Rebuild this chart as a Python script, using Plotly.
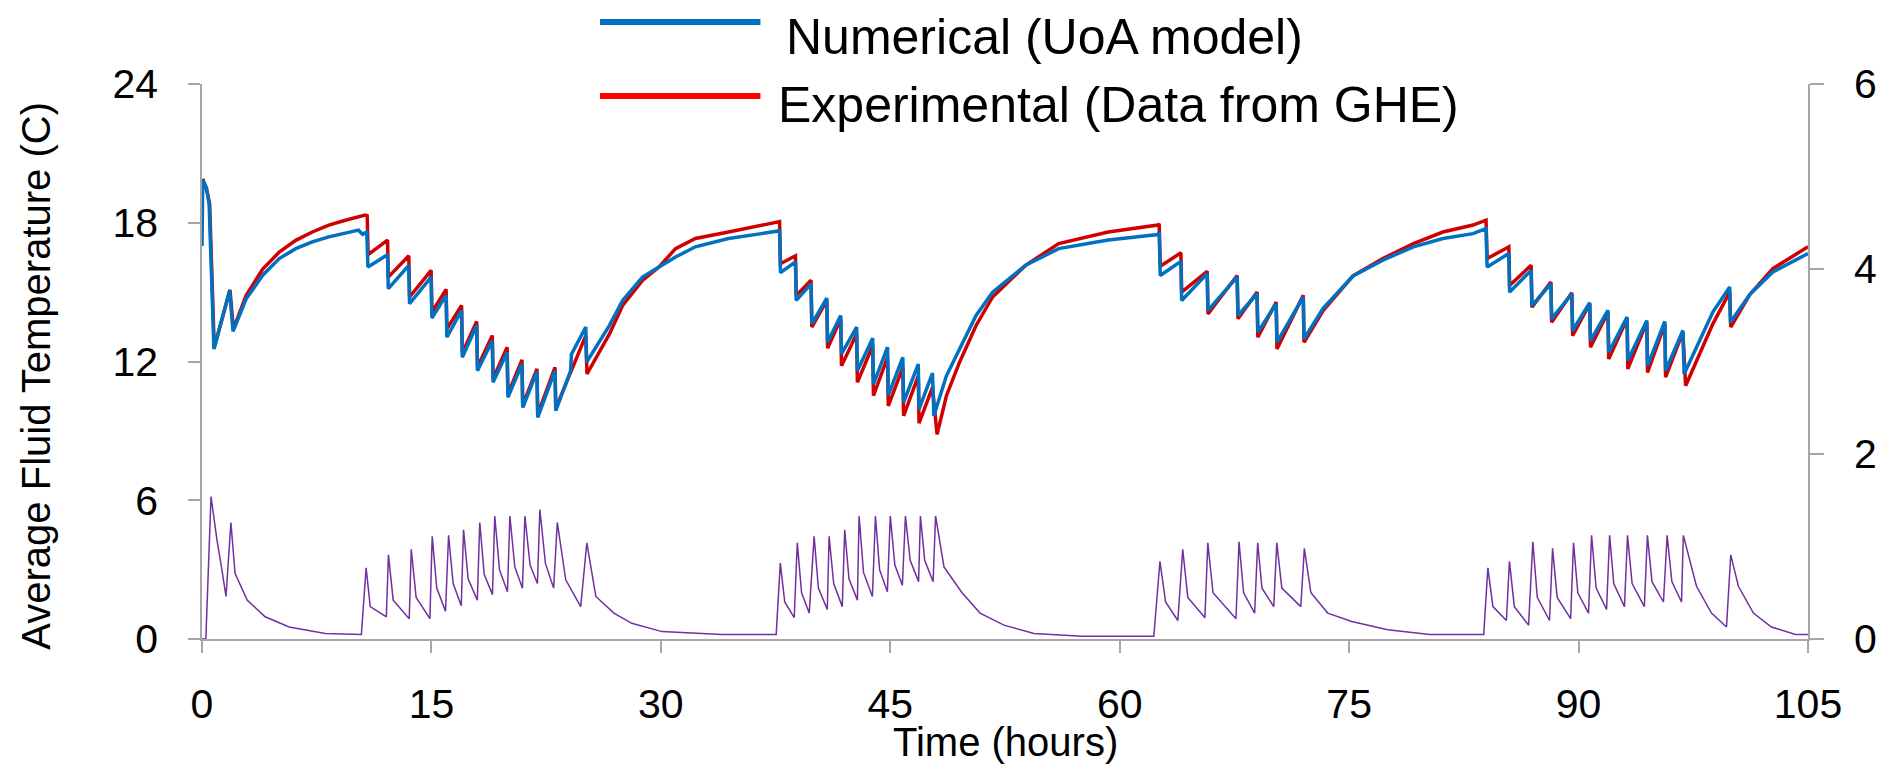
import plotly.graph_objects as go

# ---------------- data ----------------
# Numerical (UoA model) – average fluid temperature (C)
num_t = [0.0, 0.05, 0.3, 0.47, 0.78, 1.81, 2.03, 2.89, 3.97, 5.05, 6.13, 7.21, 8.29, 9.37, 10.23, 10.5, 10.77,
         10.85, 12.13, 12.18, 13.52, 13.57, 14.98, 15.03, 15.96, 16.01, 16.97, 17.02, 17.96, 18.01, 18.98, 19.03,
         19.95, 20.0, 20.92, 20.97, 21.9, 21.95, 23.08, 23.13, 24.1, 24.15, 25.09, 25.15, 26.64, 27.5, 28.8, 29.88,
         30.96, 32.26, 34.42, 36.58, 37.65, 37.76, 37.82, 38.8, 38.85, 39.82, 39.87, 40.85, 40.9, 41.76, 41.81,
         42.8, 42.85, 43.85, 43.9, 44.82, 44.87, 45.82, 45.87, 46.83, 46.88, 47.76, 47.85, 48.67, 49.53, 50.61,
         51.69, 53.85, 56.01, 59.25, 62.49, 62.58, 62.65, 64.0, 64.05, 65.72, 65.77, 67.68, 67.73, 68.98, 69.03,
         70.23, 70.28, 72.0, 72.05, 73.3, 75.25, 77.2, 79.2, 81.13, 83.1, 83.95, 84.02, 85.44, 85.49, 86.9, 86.95,
         88.19, 88.24, 89.56, 89.61, 90.73, 90.78, 91.92, 91.97, 93.17, 93.22, 94.46, 94.51, 95.64, 95.69, 96.82,
         96.9, 98.78, 99.88, 99.93, 101.2, 102.7, 105.0]
num_T = [17.0, 19.85, 19.5, 18.76, 12.54, 15.07, 13.3, 14.71, 15.73, 16.45, 16.88, 17.17, 17.39, 17.53, 17.68, 17.5, 17.6,
         16.09, 16.62, 15.15, 16.16, 14.5, 15.65, 13.88, 14.86, 13.05, 14.21, 12.18, 13.56, 11.6, 12.9, 11.1,
         12.4, 10.45, 11.89, 10.01, 11.56, 9.58, 11.6, 9.87, 11.6, 12.3, 13.49, 11.97, 13.56, 14.64, 15.65, 16.09,
         16.52, 16.96, 17.32, 17.53, 17.64, 17.7, 15.84, 16.31, 14.64, 15.36, 13.63, 14.74, 12.83, 13.99, 12.33,
         13.49, 11.6, 13.01, 11.02, 12.62, 10.55, 12.18, 10.23, 11.89, 9.94, 11.5, 9.65, 11.38, 12.54, 13.99,
         15.0, 16.16, 16.88, 17.25, 17.49, 17.6, 15.72, 16.33, 14.64, 15.8, 14.21, 15.66, 13.99, 14.93, 13.27,
         14.5, 12.83, 14.79, 12.98, 14.3, 15.7, 16.38, 16.96, 17.32, 17.53, 17.75, 16.09, 16.67, 15.0, 15.94, 14.42,
         15.36, 13.85, 14.93, 13.34, 14.54, 12.9, 14.21, 12.4, 13.92, 12.04, 13.77, 11.82, 13.73, 11.6, 13.34,
         11.46, 14.14, 15.22, 13.7, 14.9, 15.87, 16.67]

# Experimental (Data from GHE) – average fluid temperature (C)
exp_t = [0.05, 0.35, 0.5, 0.8, 1.83, 2.05, 2.89, 3.97, 5.05, 6.13, 7.21, 8.29, 9.37, 10.67, 10.8, 10.86, 12.13,
         12.18, 13.52, 13.57, 14.98, 15.03, 15.96, 16.01, 16.97, 17.02, 17.96, 18.01, 18.98, 19.03, 19.95, 20.0,
         20.92, 20.97, 21.9, 21.95, 23.08, 23.13, 25.09, 25.17, 26.64, 27.5, 28.8, 29.88, 30.96, 32.26, 34.42,
         36.58, 37.65, 37.76, 37.82, 38.8, 38.85, 39.82, 39.87, 40.85, 40.9, 41.76, 41.81, 42.8, 42.85, 43.85,
         43.9, 44.82, 44.87, 45.82, 45.87, 46.83, 46.88, 47.76, 48.06, 48.67, 49.53, 50.61, 51.69, 53.85, 56.01,
         59.25, 62.49, 62.58, 62.65, 64.0, 64.05, 65.72, 65.77, 67.68, 67.73, 68.98, 69.03, 70.23, 70.28, 72.0,
         72.05, 73.3, 75.25, 77.2, 79.2, 81.13, 83.1, 83.95, 84.02, 85.44, 85.49, 86.9, 86.95, 88.19, 88.24, 89.56,
         89.61, 90.73, 90.78, 91.92, 91.97, 93.17, 93.22, 94.46, 94.51, 95.64, 95.69, 96.82, 97.0, 98.78, 99.88,
         99.95, 101.2, 102.7, 105.0]
exp_T = [19.9, 19.3, 18.8, 12.6, 15.1, 13.4, 14.86, 16.0, 16.73, 17.24, 17.6, 17.9, 18.11, 18.33, 18.3, 16.62, 17.25,
         15.65, 16.57, 14.79, 15.94, 14.13, 15.12, 13.41, 14.42, 12.37, 13.73, 11.75, 13.12, 11.24, 12.62, 10.59,
         12.07, 10.11, 11.68, 9.72, 11.75, 9.97, 13.12, 11.46, 13.19, 14.42, 15.51, 16.09, 16.88, 17.32, 17.6,
         17.87, 18.0, 18.05, 16.23, 16.57, 14.86, 15.51, 13.49, 14.64, 12.57, 13.85, 11.82, 13.19, 11.1, 12.69,
         10.52, 12.18, 10.08, 11.75, 9.65, 11.38, 9.33, 10.88, 8.85, 10.52, 11.97, 13.56, 14.79, 16.16, 17.1,
         17.6, 17.9, 17.95, 16.12, 16.7, 15.0, 15.9, 14.06, 15.72, 13.85, 15.0, 13.05, 14.57, 12.54, 14.86,
         12.83, 14.2, 15.7, 16.45, 17.1, 17.6, 17.9, 18.11, 16.45, 16.96, 15.29, 16.16, 14.35, 15.44, 13.7, 14.97,
         13.12, 14.5, 12.62, 14.13, 12.11, 13.85, 11.68, 13.7, 11.53, 13.63, 11.32, 13.27, 10.95, 13.63, 15.0,
         13.49, 14.9, 16.02, 16.96]

# Heat rate (right axis)
heat_t = [0.0, 0.25, 0.59, 0.98, 1.3, 1.57, 1.89, 2.16, 2.95, 4.13, 5.7, 8.06, 10.42, 10.73, 11.0, 12.05, 12.19,
          12.5, 13.55, 13.68, 14.0, 14.9, 15.05, 15.35, 15.92, 16.12, 16.42, 16.95, 17.1, 17.4, 18.0, 18.16,
          18.45, 18.99, 19.14, 19.45, 19.97, 20.13, 20.45, 20.95, 21.11, 21.45, 21.93, 22.09, 22.45, 22.99,
          23.23, 23.78, 24.76, 25.16, 25.75, 26.93, 28.1, 30.07, 34.0, 37.54, 37.81, 38.1, 38.72, 38.92, 39.2,
          39.7, 40.02, 40.3, 40.88, 41.0, 41.3, 41.86, 42.02, 42.3, 42.85, 42.96, 43.25, 43.83, 44.03, 44.3,
          44.81, 45.0, 45.3, 45.79, 45.99, 46.3, 46.85, 46.97, 47.25, 47.8, 47.96, 48.51, 49.69, 50.87, 52.43,
          54.39, 57.53, 62.23, 62.63, 63.0, 63.8, 64.12, 64.45, 65.57, 65.76, 66.1, 67.6, 67.8, 68.1, 68.82,
          69.02, 69.3, 70.07, 70.27, 70.6, 71.84, 72.07, 72.5, 73.6, 75.17, 77.52, 80.27, 83.8, 84.07, 84.4,
          85.28, 85.48, 85.8, 86.73, 87.01, 87.3, 88.1, 88.3, 88.6, 89.48, 89.67, 89.95, 90.65, 90.85, 91.15,
          91.83, 92.03, 92.3, 93.0, 93.2, 93.5, 94.3, 94.5, 94.8, 95.55, 95.79, 96.1, 96.73, 96.85, 97.71,
          98.69, 99.67, 99.95, 100.45, 101.43, 102.61, 104.18, 105.0]
heat_Q = [0.0, 0.0, 1.54, 1.07, 0.75, 0.46, 1.26, 0.71, 0.42, 0.24, 0.13, 0.06, 0.05, 0.77, 0.35, 0.24, 0.91,
          0.42, 0.22, 0.97, 0.45, 0.22, 1.11, 0.55, 0.3, 1.12, 0.6, 0.36, 1.18, 0.65, 0.42, 1.26,
          0.7, 0.48, 1.33, 0.75, 0.51, 1.33, 0.78, 0.55, 1.33, 0.8, 0.6, 1.4, 0.82, 0.55,
          1.26, 0.64, 0.35, 1.04, 0.46, 0.28, 0.17, 0.08, 0.05, 0.05, 0.82, 0.4, 0.23, 1.04, 0.5,
          0.28, 1.11, 0.55, 0.32, 1.11, 0.6, 0.35, 1.18, 0.65, 0.42, 1.33, 0.72, 0.46, 1.33, 0.75,
          0.51, 1.33, 0.8, 0.58, 1.33, 0.85, 0.62, 1.33, 0.85, 0.62, 1.33, 0.78, 0.5, 0.28, 0.15,
          0.06, 0.03, 0.03, 0.84, 0.4, 0.2, 0.97, 0.45, 0.23, 1.04, 0.5, 0.22, 1.05, 0.5, 0.28,
          1.04, 0.55, 0.35, 1.04, 0.55, 0.35, 0.98, 0.5, 0.28, 0.19, 0.1, 0.05, 0.05, 0.77, 0.35,
          0.2, 0.84, 0.35, 0.15, 1.05, 0.45, 0.2, 0.98, 0.45, 0.22, 1.04, 0.5, 0.28, 1.12, 0.55,
          0.32, 1.12, 0.6, 0.35, 1.12, 0.6, 0.35, 1.12, 0.62, 0.4, 1.12, 0.62, 0.4, 1.12, 0.57,
          0.28, 0.13, 0.91, 0.57, 0.28, 0.13, 0.05, 0.05]

x_ticks = [0, 15, 30, 45, 60, 75, 90, 105]
y_ticks = [0, 6, 12, 18, 24]
y2_ticks = [0, 2, 4, 6]

# ---------------- figure ----------------
FONT = "Liberation Sans, Arial, sans-serif"
AXIS_GREY = "#A6A6A6"
BLUE = "#0070C0"
RED = "#D00000"
PURPLE = "#7030A0"

fig = go.Figure()
fig.add_trace(go.Scatter(x=heat_t, y=heat_Q, mode="lines", yaxis="y2",
                         line=dict(color=PURPLE, width=1.5), showlegend=False))
fig.add_trace(go.Scatter(x=exp_t, y=exp_T, mode="lines",
                         line=dict(color=RED, width=3.5), showlegend=False))
fig.add_trace(go.Scatter(x=num_t, y=num_T, mode="lines",
                         line=dict(color=BLUE, width=3.5), showlegend=False))

# the page body has an 8px default margin; size the figure to fit the window
OFF = 8
W, H = 1889 - OFF, 769 - OFF
L, T = 202 - OFF, 84 - OFF
R, B = 65, 130
pw, ph = W - L - R, H - T - B

def px(x):  # reference window pixel -> paper x
    return (x - OFF - L) / pw

def py(y):  # reference window pixel -> paper y
    return (H - B - (y - OFF)) / ph

axis_common = dict(showgrid=False, zeroline=False, showline=True, linecolor=AXIS_GREY, linewidth=1.5,
                   ticks="outside", tickcolor=AXIS_GREY, tickwidth=1.5, ticklen=12,
                   tickfont=dict(family=FONT, size=41, color="black"))

fig.update_layout(
    width=W, height=H, autosize=False,
    margin=dict(l=L, r=R, t=T, b=B),
    paper_bgcolor="white", plot_bgcolor="white",
    font=dict(family=FONT, color="black"),
    xaxis=dict(range=[0, 105], tickvals=x_ticks, ticklabelstandoff=16, **axis_common),
    yaxis=dict(range=[0, 24], tickvals=y_ticks, ticklabelstandoff=22, **axis_common),
    yaxis2=dict(range=[0, 6], tickvals=y2_ticks, overlaying="y", side="right",
                ticklabelstandoff=22, **{**axis_common, "ticklen": 14}),
    shapes=[
        dict(type="line", xref="paper", yref="paper", x0=px(604), x1=px(766), y0=py(22), y1=py(22),
             line=dict(color=BLUE, width=6)),
        dict(type="line", xref="paper", yref="paper", x0=px(604), x1=px(766), y0=py(96), y1=py(96),
             line=dict(color="#FF0000", width=6)),
    ],
    annotations=[
        dict(text="Numerical (UoA model)", xref="paper", yref="paper", x=px(790), y=py(37),
             xanchor="left", yanchor="middle", showarrow=False, font=dict(family=FONT, size=50, color="black")),
        dict(text="Experimental (Data from GHE)", xref="paper", yref="paper", x=px(782), y=py(105),
             xanchor="left", yanchor="middle", showarrow=False, font=dict(family=FONT, size=50, color="black")),
        dict(text="Average Fluid Temperature (C)", xref="paper", yref="paper", x=px(34), y=py(376),
             xanchor="center", yanchor="middle", textangle=-90, showarrow=False,
             font=dict(family=FONT, size=40, color="black")),
        dict(text="Time (hours)", xref="paper", yref="paper", x=px(1013), y=py(742),
             xanchor="center", yanchor="middle", showarrow=False,
             font=dict(family=FONT, size=40, color="black")),
    ],
)

fig.write_html("out.html")
